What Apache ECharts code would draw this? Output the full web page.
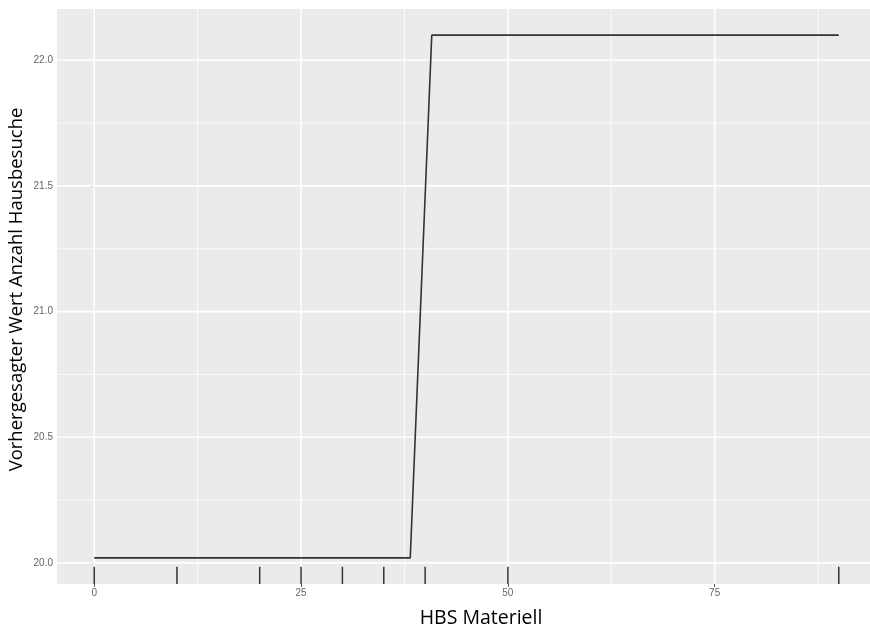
<!DOCTYPE html>
<html>
<head>
<meta charset="utf-8">
<script src="https://cdn.jsdelivr.net/npm/echarts@6/dist/echarts.min.js"></script>
<style>html,body{margin:0;padding:0;background:#fff;}#chart{width:870px;height:627px;}</style>
</head>
<body>
<div id="chart"></div>
<script>
// Partial dependence line
var lineX = [0, 38.2, 40.8, 90];
var lineY = [20.02, 20.02, 22.1, 22.1];
// Rug (observed x values)
var rugX = [0, 10, 20, 25, 30, 35, 40, 50, 90];
// Axis ticks
var xTicks = [0, 25, 50, 75];
var xMinor = [12.5, 37.5, 62.5, 87.5];
var yTicks = [20.0, 20.5, 21.0, 21.5, 22.0];
var yMinor = [20.25, 20.75, 21.25, 21.75];
var xRange = [-4.5, 94.5];
var yRange = [19.916, 22.204];
var xTitle = 'HBS Materiell';
var yTitle = 'Vorhergesagter Wert Anzahl Hausbesuche';

var chart = echarts.init(document.getElementById('chart'));

function vLines(vals, w) {
  return {
    type: 'custom', z: 1, silent: true,
    data: vals.map(function (v) { return [v, yRange[0]]; }),
    renderItem: function (params, api) {
      var cs = params.coordSys;
      var x = api.coord([api.value(0), api.value(1)])[0];
      return {type: 'line', shape: {x1: x, y1: cs.y, x2: x, y2: cs.y + cs.height},
              style: {stroke: '#ffffff', lineWidth: w}};
    }
  };
}
function hLines(vals, w) {
  return {
    type: 'custom', z: 1, silent: true,
    data: vals.map(function (v) { return [xRange[0], v]; }),
    renderItem: function (params, api) {
      var cs = params.coordSys;
      var y = api.coord([api.value(0), api.value(1)])[1];
      return {type: 'line', shape: {x1: cs.x, y1: y, x2: cs.x + cs.width, y2: y},
              style: {stroke: '#ffffff', lineWidth: w}};
    }
  };
}

var option = {
  backgroundColor: '#ffffff',
  animation: false,
  title: {
    text: xTitle, left: 476, top: 603, textAlign: 'center',
    textStyle: {fontFamily: 'Open Sans', fontWeight: 'normal', fontSize: 19.5, color: '#000'}
  },
  grid: {left: 57, top: 9, right: -6, bottom: 43, show: true, backgroundColor: '#ebebeb', borderWidth: 0,
         containLabel: false, outerBoundsMode: 'none'},
  xAxis: {
    type: 'value', min: xRange[0], max: xRange[1],
    axisLine: {show: false},
    axisTick: {show: true, length: 3, customValues: xTicks, lineStyle: {color: '#555', width: 1}},
    axisLabel: {customValues: xTicks, fontSize: 10, color: '#666', margin: 4, fontFamily: 'Liberation Sans'},
    splitLine: {show: false}
  },
  yAxis: {
    type: 'value', min: yRange[0], max: yRange[1],
    name: yTitle, nameLocation: 'middle', nameRotate: 90, nameGap: 31, nameMoveOverlap: false,
    nameTextStyle: {fontFamily: 'Open Sans', fontSize: 18.5, color: '#000', padding: [0, 0, 0, 14]},
    axisLine: {show: false},
    axisTick: {show: true, length: 3, customValues: yTicks, lineStyle: {color: '#555', width: 1}},
    axisLabel: {customValues: yTicks, fontSize: 10, color: '#666', margin: 4, fontFamily: 'Liberation Sans',
                formatter: function (v) { return v.toFixed(1); }},
    splitLine: {show: false}
  },
  series: [
    vLines(xMinor, 0.8), hLines(yMinor, 0.8),
    vLines(xTicks, 1.6), hLines(yTicks, 1.6),
    {
      type: 'line', z: 3, symbol: 'none', silent: true,
      data: lineX.map(function (x, i) { return [x, lineY[i]]; }),
      lineStyle: {color: '#333333', width: 1.6}
    },
    {
      type: 'custom', z: 3, silent: true,
      data: rugX.map(function (x) { return [x, yRange[0]]; }),
      renderItem: function (params, api) {
        var cs = params.coordSys;
        var x = api.coord([api.value(0), api.value(1)])[0];
        var yb = cs.y + cs.height;
        return {type: 'line', shape: {x1: x, y1: yb, x2: x, y2: yb - cs.height * 0.03},
                style: {stroke: '#333333', lineWidth: 1.5}};
      }
    }
  ]
};
chart.setOption(option);
</script>
</body>
</html>
